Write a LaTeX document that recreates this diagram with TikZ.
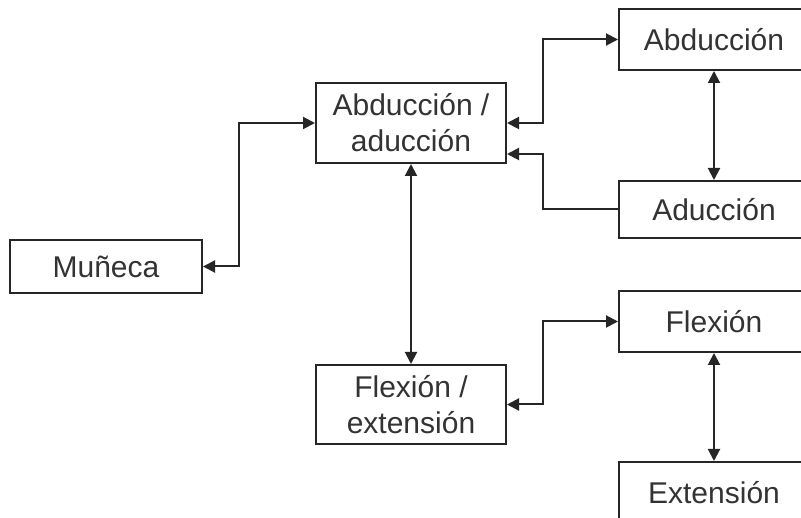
\documentclass[tikz,border=0pt]{standalone}
\usepackage{fontspec}
\setmainfont{Liberation Sans}
\usetikzlibrary{arrows.meta}
\begin{document}
\begin{tikzpicture}[x=1pt,y=-1pt,
  box/.style={draw=black!85,line width=2pt,rectangle,inner sep=0pt,align=center,
    text=black!80,font=\fontsize{30}{36}\selectfont},
  conn/.style={draw=black!85,line width=2pt,
    {Triangle[length=12pt,width=12pt]}-{Triangle[length=12pt,width=12pt]}},
  oneway/.style={draw=black!85,line width=2pt,-{Triangle[length=12pt,width=12pt]}}]
\useasboundingbox (0,0) rectangle (801,518);
\clip (0,0) rectangle (801,518);
\fill[white] (0,0) rectangle (801,518);
\node[box,minimum width=192pt,minimum height=53pt] (mun) at (106,266.5) {Muñeca};
\node[box,minimum width=190pt,minimum height=80pt] (aa) at (411,123) {Abducción /\\aducción};
\node[box,minimum width=190pt,minimum height=79pt] (fe) at (411,404.5) {Flexión /\\extensión};
\node[box,minimum width=190pt,minimum height=61pt] (abd) at (714,39.5) {Abducción};
\node[box,minimum width=190pt,minimum height=57pt] (adu) at (714,209.5) {Aducción};
\node[box,minimum width=190pt,minimum height=61pt] (flx) at (714,321.5) {Flexión};
\node[box,minimum width=190pt,minimum height=62pt] (ext) at (714,493) {Extensión};
\draw[conn] (mun.east) -- ++(36,0) |- (aa.west);
\draw[conn] (aa.east) -- ++(36,0) |- (abd.west);
\draw[oneway] (adu.west) -- ++(-75,0) |- ([yshift=-31pt]aa.east);
\draw[conn] (aa.south) -- (fe.north);
\draw[conn] (abd.south) -- (adu.north);
\draw[conn] (fe.east) -- ++(36,0) |- (flx.west);
\draw[conn] (flx.south) -- (ext.north);
\end{tikzpicture}
\end{document}
